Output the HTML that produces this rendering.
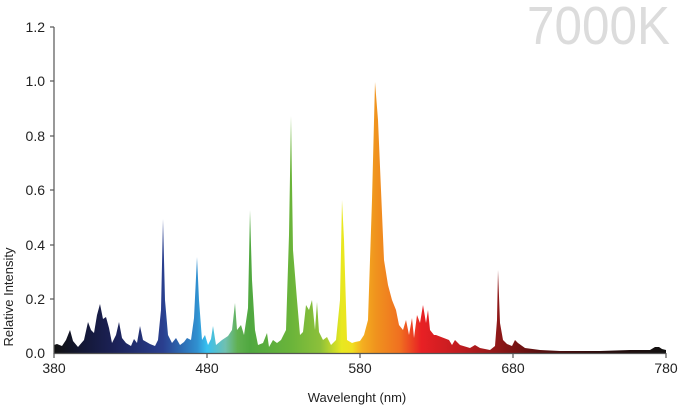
<!DOCTYPE html>
<html><head><meta charset="utf-8"><style>
body{margin:0;background:#fff;}
svg{display:block;font-family:"Liberation Sans",sans-serif;}
</style></head><body>
<svg width="679" height="407" viewBox="0 0 679 407">
<defs>
<linearGradient id="g" gradientUnits="userSpaceOnUse" x1="54" y1="0" x2="666" y2="0">
<stop offset="0" stop-color="#111"/>
<stop offset="0.05" stop-color="#141838"/>
<stop offset="0.1" stop-color="#1c2258"/>
<stop offset="0.178" stop-color="#2a3f8f"/>
<stop offset="0.234" stop-color="#3090d0"/>
<stop offset="0.25" stop-color="#38c0f0"/>
<stop offset="0.28" stop-color="#70c0b0"/>
<stop offset="0.30" stop-color="#60b050"/>
<stop offset="0.32" stop-color="#50a840"/>
<stop offset="0.387" stop-color="#6ab43a"/>
<stop offset="0.435" stop-color="#8cc03a"/>
<stop offset="0.47" stop-color="#e8e820"/>
<stop offset="0.487" stop-color="#f0e020"/>
<stop offset="0.503" stop-color="#f4b020"/>
<stop offset="0.525" stop-color="#f0941e"/>
<stop offset="0.565" stop-color="#f07020"/>
<stop offset="0.6" stop-color="#e82024"/>
<stop offset="0.663" stop-color="#c01c20"/>
<stop offset="0.724" stop-color="#901818"/>
<stop offset="0.79" stop-color="#5a1010"/>
<stop offset="0.89" stop-color="#2a0a0a"/>
<stop offset="1" stop-color="#111"/>
</linearGradient>
</defs>
<text x="670" y="44" text-anchor="end" font-size="54" fill="#dcdcdc" textLength="143" lengthAdjust="spacingAndGlyphs">7000K</text>
<polygon fill="url(#g)" points="54,345 57,344 62,346 66,340 70,330 73,341 78,347 84,340 88,322 91,330 94,333 97,315 100,304 103,319 106,317 109,328 112,343 116,335 119,322 122,338 126,343 131,346 134,339 137,343 140,326 143,340 150,344 155,346 158,340 161,310 163,219 165,300 168,335 172,343 176,338 180,345 184,342 187,338 191,340 194,318 197,257 199,300 202,340 205,335 208,345 211,339 213,326 216,345 222,340 228,336 232,330 235,303 237,330 241,325 244,335 248,308 250,210 252,280 255,330 258,345 263,343 267,333 269,347 273,340 277,343 281,340 286,330 289,235 291,116 293,250 297,300 300,335 303,332 306,305 309,310 312,300 315,330 317,302 319,332 323,340 327,337 331,345 336,340 340,300 342,200 344,240 347,340 352,343 355,342 360,341 364,335 368,320 372,200 375,82 378,120 381,190 384,260 388,285 392,300 396,310 399,325 403,330 406,320 409,335 412,318 414,338 417,315 420,323 423,305 426,323 428,310 430,330 434,335 436,335 449,340 452,345 455,340 460,345 470,348 475,345 480,348 490,350 495,346 497,320 498,270 500,323 503,340 507,344 512,346 515,340 518,343 525,348 540,350 560,351 600,351 630,350 650,350 655,347 659,347 662,349 666,350 666,353 54,353"/>
<g stroke="#555" stroke-width="1.2" fill="none">
<line x1="54" y1="27" x2="54" y2="354"/>
<line x1="54" y1="353.5" x2="666" y2="353.5"/>
<line x1="50" y1="27" x2="54" y2="27"/><line x1="50" y1="81" x2="54" y2="81"/><line x1="50" y1="136" x2="54" y2="136"/><line x1="50" y1="190" x2="54" y2="190"/><line x1="50" y1="245" x2="54" y2="245"/><line x1="50" y1="299" x2="54" y2="299"/>
<line x1="54" y1="353" x2="54" y2="358"/><line x1="207" y1="353" x2="207" y2="358"/><line x1="360" y1="353" x2="360" y2="358"/><line x1="513" y1="353" x2="513" y2="358"/><line x1="666" y1="353" x2="666" y2="358"/>
</g>
<g font-size="14" fill="#222" text-anchor="end">
<text x="45" y="32">1.2</text><text x="45" y="86">1.0</text><text x="45" y="141">0.8</text><text x="45" y="195">0.6</text><text x="45" y="250">0.4</text><text x="45" y="304">0.2</text><text x="45" y="358">0.0</text>
</g>
<g font-size="14" fill="#222" text-anchor="middle">
<text x="54" y="373">380</text><text x="207" y="373">480</text><text x="360" y="373">580</text><text x="513" y="373">680</text><text x="666" y="373">780</text>
<text x="357" y="402" font-size="13">Wavelenght (nm)</text>
</g>
<text transform="translate(13,297) rotate(-90)" text-anchor="middle" font-size="13" fill="#222">Relative Intensity</text>
</svg>
</body></html>
